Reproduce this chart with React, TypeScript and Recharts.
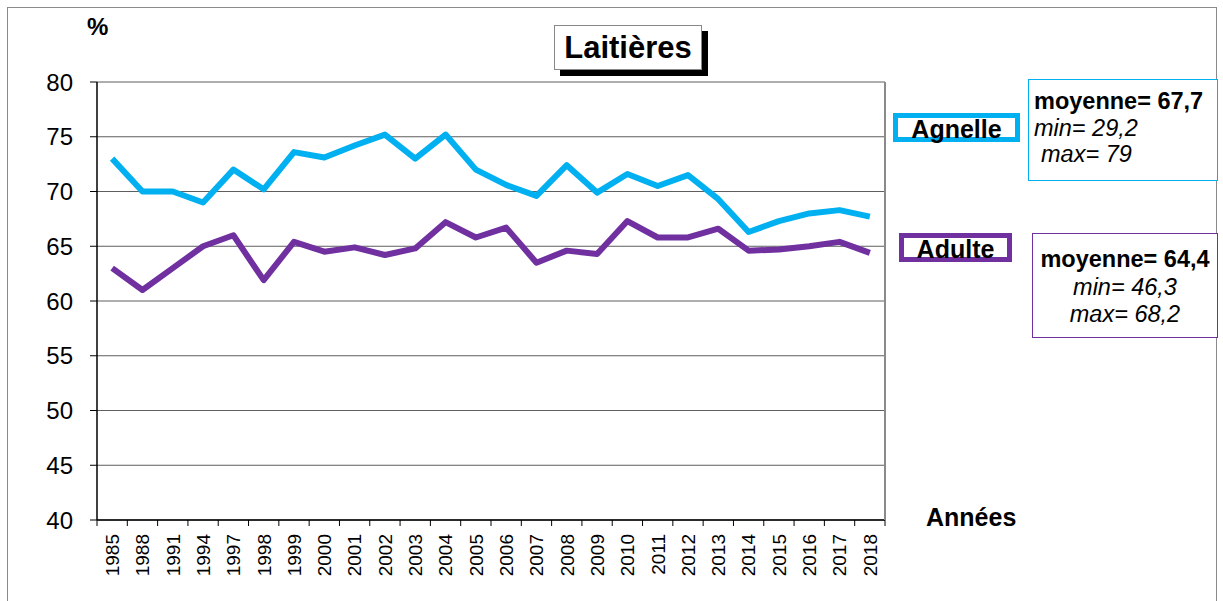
import { LineChart, Line, XAxis, YAxis, CartesianGrid } from "recharts";

// Années (catégories de l'axe X)
const years = [
  "1985", "1988", "1991", "1994", "1997", "1998", "1999", "2000", "2001", "2002", "2003", "2004", "2005",
  "2006", "2007", "2008", "2009", "2010", "2011", "2012", "2013", "2014", "2015", "2016", "2017", "2018",
];

// % Agnelle
const agnelle = [
  73, 70, 70, 69, 72, 70.2, 73.6, 73.1, 74.2, 75.2, 73, 75.2, 72,
  70.6, 69.6, 72.4, 69.9, 71.6, 70.5, 71.5, 69.3, 66.3, 67.3, 68, 68.3, 67.7,
];

// % Adulte
const adulte = [
  63, 61, 63, 65, 66, 61.9, 65.4, 64.5, 64.9, 64.2, 64.8, 67.2, 65.8,
  66.7, 63.5, 64.6, 64.3, 67.3, 65.8, 65.8, 66.6, 64.6, 64.7, 65, 65.4, 64.4,
];

const yTicks = [40, 45, 50, 55, 60, 65, 70, 75, 80];

const BLUE = "#00B0F0";
const PURPLE = "#7030A0";
const FONT = "'Liberation Sans', Arial, sans-serif";

const W = 1223;
const H = 601;
const PLOT_LEFT = 97;
const PLOT_RIGHT = 885;
const PLOT_TOP = 82;
const PLOT_BOTTOM = 520;
const BAND = (PLOT_RIGHT - PLOT_LEFT) / years.length;

const data = years.map((y, i) => ({ year: y, agnelle: agnelle[i], adulte: adulte[i] }));

function YearTick(props: any) {
  const { x, payload } = props;
  const last = payload.index === years.length - 1;
  return (
    <g>
      <line x1={x - BAND / 2} x2={x - BAND / 2} y1={PLOT_BOTTOM} y2={PLOT_BOTTOM + 6} stroke="#000" />
      {last && <line x1={x + BAND / 2} x2={x + BAND / 2} y1={PLOT_BOTTOM} y2={PLOT_BOTTOM + 6} stroke="#000" />}
      <text
        x={x}
        y={PLOT_BOTTOM + 14}
        transform={`rotate(-90, ${x}, ${PLOT_BOTTOM + 14})`}
        textAnchor="end"
        dy="0.36em"
        fontSize={19}
        fontFamily={FONT}
        fill="#000"
      >
        {payload.value}
      </text>
    </g>
  );
}

const boxText: React.CSSProperties = { position: "absolute", fontFamily: FONT, color: "#000", whiteSpace: "nowrap" };

export default function App() {
  return (
    <div style={{ position: "absolute", left: 0, top: 0, width: W, height: H, background: "#fff", overflow: "hidden" }}>
      <LineChart
        width={W}
        height={H}
        data={data}
        margin={{ top: PLOT_TOP, right: W - PLOT_RIGHT, bottom: 11, left: 7 }}
      >
        <CartesianGrid vertical={false} stroke="#5e5e5e" />
        <XAxis
          dataKey="year"
          height={70}
          padding={{ left: BAND / 2, right: BAND / 2 }}
          tickLine={false}
          axisLine={{ stroke: "#000", strokeWidth: 1.5 }}
          interval={0}
          tick={<YearTick />}
        />
        <YAxis
          domain={[40, 80]}
          ticks={yTicks}
          width={90}
          tickSize={7}
          tickMargin={17}
          axisLine={{ stroke: "#000", strokeWidth: 1.5 }}
          tickLine={{ stroke: "#000" }}
          tick={{ fontSize: 24, fill: "#000", fontFamily: FONT }}
        />
        <Line
          dataKey="agnelle"
          stroke={BLUE}
          strokeWidth={6}
          dot={false}
          strokeLinejoin="round"
          isAnimationActive={false}
        />
        <Line
          dataKey="adulte"
          stroke={PURPLE}
          strokeWidth={6}
          dot={false}
          strokeLinejoin="round"
          isAnimationActive={false}
        />
      </LineChart>

      {/* bord droit de la zone de tracé */}
      <div style={{ position: "absolute", left: PLOT_RIGHT - 1, top: PLOT_TOP, width: 2, height: PLOT_BOTTOM - PLOT_TOP, background: "#8a8a8a" }} />

      {/* cadre du graphique */}
      <div style={{ position: "absolute", left: 7, top: 7, width: 1210, height: 600, border: "1px solid #8a8a8a", boxSizing: "border-box", pointerEvents: "none" }} />

      {/* titre */}
      <div
        style={{
          ...boxText,
          left: 554, top: 25, width: 148, height: 45, boxSizing: "border-box",
          border: "1px solid #888", background: "#fff", boxShadow: "6px 6px 0 0 #000",
          fontWeight: "bold", fontSize: 31, lineHeight: "43px", textAlign: "center",
        }}
      >
        Laitières
      </div>

      <div style={{ ...boxText, left: 87, top: 13, fontWeight: "bold", fontSize: 24 }}>%</div>
      <div style={{ ...boxText, left: 926, top: 503, fontWeight: "bold", fontSize: 25 }}>Années</div>

      {/* étiquettes des séries */}
      <div
        style={{
          ...boxText, left: 893, top: 113, width: 127, height: 29, boxSizing: "border-box",
          border: `5px solid ${BLUE}`, background: "#fff",
          fontWeight: "bold", fontSize: 25, lineHeight: "22px", textAlign: "center",
        }}
      >
        Agnelle
      </div>
      <div
        style={{
          ...boxText, left: 899, top: 233, width: 113, height: 29, boxSizing: "border-box",
          border: `5px solid ${PURPLE}`, background: "#fff",
          fontWeight: "bold", fontSize: 25, lineHeight: "22px", textAlign: "center",
        }}
      >
        Adulte
      </div>

      {/* statistiques */}
      <div
        style={{
          ...boxText, left: 1028, top: 79, width: 190, height: 102, boxSizing: "border-box",
          border: `1.5px solid ${BLUE}`, background: "#fff", padding: "8px 0 0 5px", fontSize: 23.5, lineHeight: "26.5px",
        }}
      >
        <div style={{ fontWeight: "bold" }}>moyenne= 67,7</div>
        <div style={{ fontStyle: "italic" }}>min= 29,2</div>
        <div style={{ fontStyle: "italic", paddingLeft: 7 }}>max= 79</div>
      </div>
      <div
        style={{
          ...boxText, left: 1032, top: 233, width: 186, height: 105, boxSizing: "border-box",
          border: `1.5px solid ${PURPLE}`, background: "#fff", padding: "12px 0 0 0", fontSize: 23.5, lineHeight: "27.5px",
          textAlign: "center",
        }}
      >
        <div style={{ fontWeight: "bold" }}>moyenne= 64,4</div>
        <div style={{ fontStyle: "italic" }}>min= 46,3</div>
        <div style={{ fontStyle: "italic" }}>max= 68,2</div>
      </div>
    </div>
  );
}
